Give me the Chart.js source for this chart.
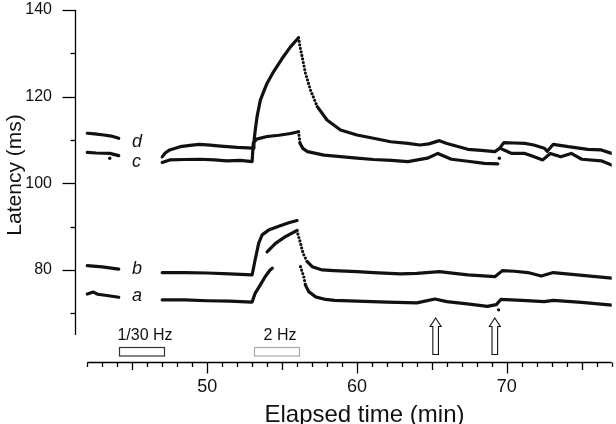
<!DOCTYPE html>
<html><head><meta charset="utf-8">
<script src="https://cdn.jsdelivr.net/npm/chart.js@4.4.1/dist/chart.umd.min.js"></script>
<style>html,body{margin:0;padding:0;background:#fff;}#wrap{width:616px;height:424px;position:relative;}</style>
</head><body><div id="wrap"><canvas id="c" width="616" height="424"></canvas></div>
<script>
// ---- data (minutes, latency ms) ----
const seriesD = [[42.0,111.55],[42.5,111.4],[43.1,111.15],[43.6,110.9],[44.1,110.4],[45.5,null],
  [47.0,106.1],[47.2,107.0],[47.5,107.7],[48.2,108.45],[49.0,108.8],[49.5,109.0],[50.2,108.8],[50.9,108.6],[52.0,108.3],[53.06,108.1],
  [53.12,109.5],[53.2,112.0],[53.33,115.4],[53.55,119.2],[53.8,121.4],[54.0,123.1],[54.44,125.8],[55.0,128.8],[55.56,131.5],[56.1,133.6],
  [56.2,131.5],[56.34,129.2],[56.56,125.4],[56.9,121.5],[57.35,117.7],[58.0,114.6],[58.9,112.3],[60.0,111.15],[61.1,110.4],[62.25,109.6],
  [63.4,109.2],[64.2,108.85],[64.8,109.1],[65.5,109.85],[66.0,109.2],[67.4,107.85],[68.3,107.6],[69.2,107.3],[69.5,108.0],[69.8,109.4],
  [70.5,109.3],[71.2,109.2],[71.8,108.85],[72.5,108.1],[72.7,107.4],[73.1,109.0],[74.1,108.45],[75.4,107.85],[76.3,107.7],[77.0,106.9]];
const seriesC = [[42.0,107.15],[42.6,107.0],[43.5,106.9],[44.1,106.4],[45.5,null],
  [47.0,104.8],[47.5,105.4],[48.5,105.5],[49.5,105.55],[50.5,105.4],[51.3,105.2],[52.2,105.3],[53.0,105.0],
  [53.08,109.3],[53.3,110.2],[54.0,110.8],[54.8,111.1],[55.56,111.5],[56.1,111.9],
  [56.2,109.2],[56.4,108.0],[56.7,107.3],[57.8,106.5],[58.9,106.15],[60.0,105.8],[61.1,105.5],[62.3,105.3],[63.4,105.0],[64.7,105.8],
  [65.4,106.9],[66.3,105.55],[67.4,105.1],[68.5,104.6],[69.4,104.5],[69.5,null],
  [69.6,108.0],[70.0,107.4],[70.3,106.9],[71.2,106.9],[71.6,106.4],[72.4,105.4],[72.9,106.9],[73.6,106.15],[74.3,106.9],[75.0,105.55],[76.3,105.2],[77.0,104.2]];
const seriesB = [[42.0,81.0],[43.0,80.7],[44.1,80.2],[45.5,null],
  [47.0,79.4],[48.5,79.4],[50.0,79.3],[51.5,79.1],[53.0,78.85],
  [53.2,82.3],[53.44,86.2],[53.67,88.1],[54.1,89.2],[54.78,90.1],[55.45,90.9],[56.0,91.4]];
const seriesBInner = [[54.0,84.2],[54.56,86.15],[55.22,87.7],[56.0,89.1],
  [56.07,88.1],[56.23,86.2],[56.34,84.6],[56.45,83.5],[56.68,81.9],[57.01,80.75],[57.68,80.0],[58.45,79.85],[60.0,79.6],[61.1,79.4],
  [62.9,79.1],[64.0,79.2],[65.5,79.6],[66.5,79.2],[67.4,78.85],[69.2,78.45],[69.7,79.85],[70.5,79.7],[71.4,79.4],[72.3,78.6],
  [73.1,79.4],[74.7,78.85],[77.0,78.1]];
const seriesA = [[42.0,74.45],[42.4,74.9],[42.7,74.4],[43.3,74.1],[44.1,73.7],[45.5,null],
  [47.0,73.1],[48.5,73.1],[50.0,72.9],[51.5,72.8],[53.0,72.6],
  [53.2,74.6],[53.54,76.5],[53.87,78.45],[54.2,80.0],[54.35,80.4],[55.0,null],
  [56.23,80.75],[56.45,78.45],[56.56,76.5],[56.78,75.0],[57.23,73.8],[57.9,73.2],[58.5,73.0],[60.0,72.8],[62.0,72.6],[64.0,72.4],
  [65.2,73.3],[66.0,72.7],[67.5,72.1],[68.7,71.6],[69.3,72.0],[69.6,73.2],[71.0,73.0],[72.5,72.7],[73.1,73.0],[75.0,72.5],[77.0,71.9]];
const strayPoints = [[43.5,105.8],[69.5,105.8],[69.45,70.8]];

const seriesNames = ['a','b','c','d'];
const xTickValues = [42,43,44,45,46,47,48,49,50,51,52,53,54,55,56,57,58,59,60,61,62,63,64,65,66,67,68,69,70,71,72,73,74,75,76,77];
const xLabelValues = [50,60,70];
const yTickValues = [70,80,90,100,110,120,130,140];
const yLabelValues = [80,100,120,140];
const stimIntervals = [[44.1,47.1],[53.15,56.15]];
const stimLabels = ['1/30 Hz','2 Hz'];
const arrowTimes = [65.25,69.2];
const xTitle = 'Elapsed time (min)';
const yTitle = 'Latency (ms)';

// ---- chart ----
const FONT = '"Liberation Sans", Arial, sans-serif';
const toXY = arr => arr.map(([x,y]) => ({x, y}));
const steepDown = ctx => {
  const dx = Math.abs(ctx.p1.x - ctx.p0.x), dy = ctx.p1.y - ctx.p0.y;
  return dy > 0 && dy > 2 * dx ? [0, 3.6] : undefined;
};
const lineDS = (label, arr) => ({
  type: 'line', label, data: toXY(arr), borderColor: '#111', backgroundColor: '#111',
  borderWidth: 3.2, pointRadius: 0, tension: 0, spanGaps: false, borderCapStyle: 'round', borderJoinStyle: 'round',
  segment: { borderDash: steepDown }
});

const leftSeg = {a: seriesA, b: seriesB, c: seriesC, d: seriesD};
const labelNudge = {a: 4, b: 4.7, c: 11, d: 8.4};
const zeroPad = s => { s.paddingTop = 0; s.paddingBottom = 0; s.paddingLeft = 0; s.paddingRight = 0; };

const decor = {
  id: 'decor',
  beforeDatasetsDraw(chart) {
    const {ctx, chartArea, scales: {x, y}} = chart;
    ctx.save();
    ctx.strokeStyle = '#000'; ctx.lineWidth = 1.3;
    const yx = Math.round(chartArea.left) + 0.5;
    ctx.beginPath(); ctx.moveTo(yx, y.getPixelForValue(140)); ctx.lineTo(yx, y.getPixelForValue(65)); ctx.stroke();
    yTickValues.forEach(v => {
      const py = Math.round(y.getPixelForValue(v)) + 0.5;
      const len = yLabelValues.includes(v) ? 13 : 5;
      ctx.beginPath(); ctx.moveTo(yx - len, py); ctx.lineTo(yx, py); ctx.stroke();
    });
    const xy = Math.round(chartArea.bottom) + 0.5;
    ctx.beginPath(); ctx.moveTo(x.getPixelForValue(xTickValues[0]), xy); ctx.lineTo(x.getPixelForValue(xTickValues[xTickValues.length-1]), xy); ctx.stroke();
    xTickValues.forEach(v => {
      const px = Math.round(x.getPixelForValue(v)) + 0.5;
      const len = xLabelValues.includes(v) ? 11 : (v % 5 === 0 ? 7.5 : 4.5);
      ctx.beginPath(); ctx.moveTo(px, xy); ctx.lineTo(px, xy + len); ctx.stroke();
    });
    ctx.restore();
  },
  afterDatasetsDraw(chart) {
    const {ctx, chartArea, scales: {x, y}} = chart;
    const bot = chartArea.bottom;
    ctx.save();
    // stimulation boxes
    const boxColors = ['#333', '#aaa'];
    stimIntervals.forEach(([s, e], i) => {
      const x0 = Math.round(x.getPixelForValue(s)) + 0.5, x1 = Math.round(x.getPixelForValue(e)) + 0.5;
      ctx.fillStyle = '#fff'; ctx.strokeStyle = boxColors[i]; ctx.lineWidth = 1.2;
      ctx.fillRect(x0, bot - 14.5, x1 - x0, 8.5);
      ctx.strokeRect(x0, bot - 14.5, x1 - x0, 8.5);
      ctx.fillStyle = '#111'; ctx.font = '16px ' + FONT; ctx.textAlign = 'center'; ctx.textBaseline = 'alphabetic';
      ctx.fillText(stimLabels[i], (x0 + x1) / 2 + 3, bot - 22);
    });
    // arrows
    arrowTimes.forEach(t => {
      const px = x.getPixelForValue(t);
      const tip = bot - 44, hb = bot - 35.5, sb = bot - 7.5, hw = 5.5, sw = 2.8;
      ctx.beginPath();
      ctx.moveTo(px, tip); ctx.lineTo(px + hw, hb); ctx.lineTo(px + sw, hb); ctx.lineTo(px + sw, sb);
      ctx.lineTo(px - sw, sb); ctx.lineTo(px - sw, hb); ctx.lineTo(px - hw, hb); ctx.closePath();
      ctx.fillStyle = '#fff'; ctx.fill(); ctx.strokeStyle = '#111'; ctx.lineWidth = 1.1; ctx.stroke();
    });
    // series letters
    ctx.fillStyle = '#111'; ctx.font = 'italic 18px ' + FONT; ctx.textAlign = 'left'; ctx.textBaseline = 'alphabetic';
    seriesNames.forEach(n => {
      const seg = leftSeg[n];
      const last = seg[seg.findIndex(p => p[1] === null) - 1];
      ctx.fillText(n, x.getPixelForValue(45) - 0.3, y.getPixelForValue(last[1]) + labelNudge[n]);
    });
    // axis titles
    ctx.font = '24px ' + FONT; ctx.textAlign = 'center'; ctx.textBaseline = 'alphabetic';
    ctx.fillText(xTitle, (x.getPixelForValue(42) + x.getPixelForValue(77)) / 2 + 15, bot + 60);
    ctx.save();
    ctx.font = '21px ' + FONT;
    ctx.translate(20.5, (y.getPixelForValue(140) + y.getPixelForValue(65)) / 2 + 2.5);
    ctx.rotate(-Math.PI / 2);
    ctx.fillText(yTitle, 0, 0);
    ctx.restore();
    ctx.restore();
  }
};

new Chart(document.getElementById('c'), {
  data: {
    datasets: [
      lineDS('a', seriesA), lineDS('b', seriesB), lineDS('b', seriesBInner), lineDS('c', seriesC), lineDS('d', seriesD),
      { type: 'scatter', label: 'stray', data: toXY(strayPoints), pointRadius: 1.7, backgroundColor: '#111', borderWidth: 0 }
    ]
  },
  options: {
    responsive: false, animation: false, devicePixelRatio: 1,
    layout: { padding: { top: 10, right: 4.3, left: 0, bottom: 0 } },
    plugins: { legend: { display: false }, tooltip: { enabled: false } },
    scales: {
      x: {
        type: 'linear', position: 'bottom', min: 41.18, max: 77,
        grid: { display: false, drawTicks: false }, border: { display: false },
        afterBuildTicks: s => { s.ticks = xTickValues.map(v => ({value: v})); },
        afterFit: s => { s.height = 62; zeroPad(s); },
        ticks: { autoSkip: false, maxRotation: 0, padding: 14, color: '#111', font: { family: FONT, size: 18 },
          callback: v => xLabelValues.includes(v) ? String(v) : '' }
      },
      y: {
        type: 'linear', position: 'left', min: 58.76, max: 140,
        grid: { display: false, drawTicks: false }, border: { display: false },
        afterBuildTicks: s => { s.ticks = yTickValues.map(v => ({value: v})); },
        afterFit: s => { s.width = 75; zeroPad(s); },
        ticks: { autoSkip: false, padding: 23, color: '#111', font: { family: FONT, size: 16 },
          callback: v => yLabelValues.includes(v) ? String(v) : '' }
      }
    }
  },
  plugins: [decor]
});
</script></body></html>
